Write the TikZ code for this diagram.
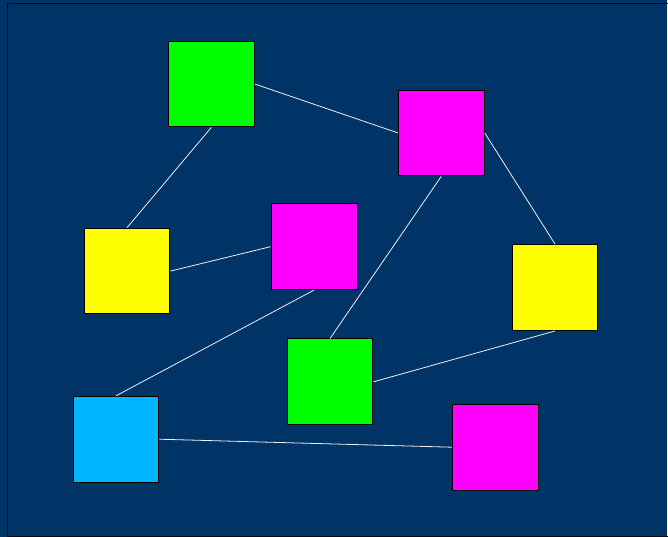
\documentclass[tikz,border=0pt]{standalone}
\usepackage{tikz}
\usetikzlibrary{calc}
\definecolor{navy}{RGB}{0,51,102}
\definecolor{lime}{RGB}{0,255,0}
\definecolor{pink}{RGB}{255,0,255}
\definecolor{lemon}{RGB}{255,255,0}
\definecolor{sky}{RGB}{0,182,255}
\tikzset{
	tile/.style={draw=black, line width=1pt, minimum size=86pt, inner sep=0pt},
	greentile/.style={tile, fill=lime},
	pinktile/.style={tile, fill=pink},
	yellowtile/.style={tile, fill=lemon},
	bluetile/.style={tile, fill=sky},
	link/.style={draw=white!88!gray, line width=0.8pt}
}

\begin{document}
\begin{tikzpicture}[x=1pt, y=-1pt]
		%%%%% START %%%%%
		
		\fill[navy] (0, 0) rectangle (668, 538);
		\draw[line width=1pt, color=black!75!navy] (7.5, 537.5) -- (7.5, 3.5) -- (669, 3.5);
		\draw[line width=1pt, color=black!75!navy] (7.5, 537.5) -- (669, 537.5);
		\useasboundingbox (0, 0) rectangle (668, 538);
		
		\node[greentile] (g1) at (211.8, 84.2) {};
		\node[pinktile] (p1) at (442.3, 133.2) {};
		\node[yellowtile] (y1) at (127.3, 271.7) {};
		\node[pinktile] (p2) at (314.8, 247.2) {};
		\node[yellowtile] (y2) at (556.3, 288.2) {};
		\node[greentile] (g2) at (330.8, 382.7) {};
		\node[bluetile] (b1) at (116.3, 440.2) {};
		\node[pinktile] (p3) at (496.3, 448.2) {};
		
		\draw[link] (g1.south) -- (y1.north);
		\draw[link] (g1.east) -- (p1.west);
		\draw[link] (p1.south) -- (g2.north);
		\draw[link] (p1.east) -- (y2.north);
		\draw[link] (y1.east) -- (p2.west);
		\draw[link] (p2.south) -- (b1.north);
		\draw[link] (y2.south) -- (g2.east);
		\draw[link] (b1.east) -- (p3.west);
		
		%%%%% END %%%%%
	\end{tikzpicture}
\end{document}
